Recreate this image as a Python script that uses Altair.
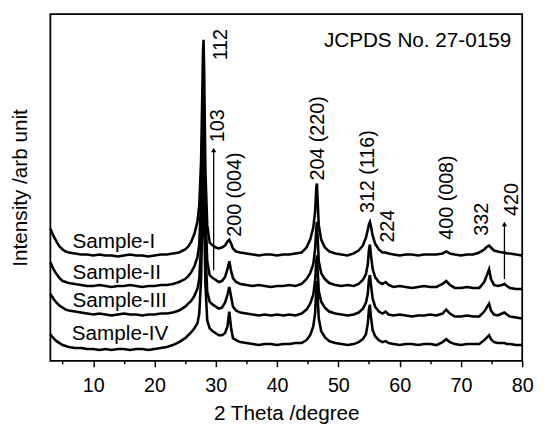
import altair as alt
import pandas as pd

FONT = "Liberation Sans"

two_theta = [3.0, 3.5, 4.0, 4.5, 5.0, 5.5, 6.0, 7.0, 8.0, 9.0,
             10, 11, 12, 13, 14, 15, 16, 17, 18, 19,
             20, 21, 22, 23, 24, 25, 25.5, 26, 26.5, 27,
             27.3, 27.6, 27.8, 27.9, 28.0, 28.1, 28.3, 28.6, 29.0, 29.5,
             30, 30.5, 31, 31.5, 31.9, 32.2, 32.5, 32.8, 33.3, 34,
             35, 36, 37, 38, 39, 40, 41, 42, 43, 44,
             44.8, 45.4, 45.9, 46.2, 46.4, 46.5, 46.6, 46.8, 47.2, 47.8,
             48.5, 49.5, 50.5, 51.5, 52.5, 53.3, 54.0, 54.5, 54.8, 55.0,
             55.15, 55.3, 55.6, 56.0, 56.6, 57.2, 57.7, 58.2, 59, 60,
             61, 62, 63, 64, 65, 66, 67, 67.6, 68.2, 69,
             70, 71, 72, 73, 73.8, 74.3, 74.6, 74.9, 75.4, 76,
             76.7, 77.1, 77.5, 78, 79, 80]

sample_1 = [134, 127, 121, 116, 113, 111, 110, 109, 108, 108,
            107, 108, 107, 107, 106, 107, 108, 107, 107, 106,
            107, 108, 108, 109, 110, 113, 116, 121, 129, 141,
            158, 203, 273, 313, 326, 293, 193, 138, 120, 117,
            115, 114, 115, 117, 121, 123, 119, 114, 111, 110,
            109, 108, 107, 108, 108, 107, 108, 108, 109, 110,
            115, 123, 135, 151, 176, 180, 165, 138, 123, 115,
            111, 109, 108, 107, 109, 112, 117, 125, 133, 139,
            141, 137, 127, 119, 113, 110, 110, 109, 108, 107,
            108, 108, 107, 108, 108, 108, 109, 111, 109, 108,
            107, 108, 108, 110, 113, 116, 117, 115, 112, 111,
            110, 110, 109, 109, 108, 107]

sample_2 = [100, 93, 88, 84, 81, 80, 79, 78, 77, 76,
            76, 77, 76, 75, 76, 76, 77, 76, 75, 76,
            76, 77, 77, 78, 80, 83, 86, 90, 96, 105,
            118, 163, 233, 263, 271, 243, 153, 101, 87, 84,
            82, 80, 81, 85, 93, 101, 91, 84, 80, 78,
            77, 76, 77, 76, 75, 76, 76, 77, 76, 78,
            83, 89, 98, 113, 135, 141, 128, 101, 89, 83,
            79, 77, 76, 77, 76, 78, 82, 88, 98, 113,
            118, 108, 93, 85, 80, 78, 80, 77, 75, 76,
            75, 74, 75, 76, 75, 75, 78, 81, 77, 74,
            74, 75, 74, 74, 80, 88, 93, 83, 77, 76,
            77, 78, 76, 74, 73, 73]

sample_3 = [68, 63, 59, 56, 54, 52, 51, 50, 49, 48,
            47, 48, 47, 46, 47, 48, 47, 47, 46, 47,
            47, 48, 48, 49, 51, 55, 58, 61, 66, 73,
            83, 118, 188, 218, 223, 193, 113, 70, 60, 57,
            55, 53, 54, 59, 67, 75, 65, 55, 51, 49,
            48, 47, 46, 47, 46, 47, 46, 47, 46, 48,
            52, 58, 67, 81, 101, 107, 95, 71, 60, 54,
            50, 48, 47, 46, 47, 49, 53, 59, 68, 83,
            87, 78, 63, 55, 50, 48, 50, 47, 46, 47,
            46, 45, 46, 46, 47, 46, 48, 52, 48, 45,
            45, 46, 45, 45, 50, 55, 58, 51, 47, 46,
            48, 49, 47, 45, 44, 43]

sample_4 = [27, 23, 20, 18, 16, 15, 14, 13, 13, 12,
            12, 11, 12, 11, 12, 12, 11, 12, 12, 11,
            12, 13, 14, 16, 19, 23, 26, 29, 33, 38,
            48, 83, 148, 168, 173, 148, 78, 41, 33, 30,
            28, 26, 26, 28, 35, 50, 33, 23, 21, 19,
            18, 17, 16, 17, 17, 16, 17, 17, 18, 18,
            21, 26, 35, 48, 73, 81, 68, 43, 30, 24,
            20, 18, 17, 16, 17, 19, 22, 27, 38, 53,
            57, 45, 31, 25, 21, 19, 20, 18, 17, 16,
            17, 17, 16, 17, 17, 16, 19, 22, 19, 17,
            16, 17, 17, 17, 21, 24, 26, 22, 19, 18,
            18, 18, 17, 17, 16, 16]

sample_names = ["Sample-I", "Sample-II", "Sample-III", "Sample-IV"]
sample_label_x = [6.6, 6.6, 6.6, 6.5]
sample_label_y = [121, 89, 61, 27]

peak_labels = ["112", "103", "200 (004)", "204 (220)", "312 (116)",
               "224", "400 (008)", "332", "420"]
peak_label_x = [30.8, 30.4, 33.1, 46.7, 54.9, 58.1, 67.7, 73.4, 78.3]
peak_label_y = [305, 222, 126, 183, 150, 120, 123, 127, 147]

arrow_x = [29.65, 77.1]
arrow_from = [92, 83]
arrow_to = [212, 137]
arrow_head = [214, 139]

note_text = ["JCPDS No. 27-0159"]
note_x = [78.2]
note_y = [325]

major_ticks = [10, 20, 30, 40, 50, 60, 70, 80]
minor_ticks = [5, 15, 25, 35, 45, 55, 65, 75]

rows = []
for name, ys in zip(sample_names, [sample_1, sample_2, sample_3, sample_4]):
    for t, v in zip(two_theta, ys):
        rows.append({"theta": t, "intensity": v, "sample": name})
df = pd.DataFrame(rows)

df_peaks = pd.DataFrame({"theta": peak_label_x, "intensity": peak_label_y, "label": peak_labels})
df_samples = pd.DataFrame({"theta": sample_label_x, "intensity": sample_label_y, "label": sample_names})
df_arrows = pd.DataFrame({"theta": arrow_x, "intensity": arrow_from, "intensity2": arrow_to, "head": arrow_head})
df_note = pd.DataFrame({"theta": note_x, "intensity": note_y, "label": note_text})

x_scale = alt.Scale(domain=[3, 80], nice=False, zero=False)
y_scale = alt.Scale(domain=[0, 352], nice=False, zero=False)

major_axis = alt.Axis(values=major_ticks, orient="bottom", tickSize=6, tickWidth=1.5,
                      tickColor="black", labelFontSize=20, labelFont=FONT,
                      labelColor="black", labelPadding=9, labelFlush=False,
                      title="2 Theta /degree", titleFontSize=21, titleFont=FONT,
                      titleFontWeight="normal", titleColor="black", titlePadding=8,
                      domain=False, grid=False)
minor_axis = alt.Axis(values=minor_ticks, orient="bottom", tickSize=3, tickWidth=1.5,
                      tickColor="black", labels=False, domain=False, grid=False, title=None)
y_axis = alt.Axis(title="Intensity /arb unit", labels=False, ticks=False, domain=False,
                  grid=False, titleFontSize=21, titleFont=FONT, titleFontWeight="normal",
                  titleColor="black", titlePadding=20)

lines = alt.Chart(df).mark_line(strokeWidth=2.6, color="black").encode(
    x=alt.X("theta:Q", scale=x_scale, axis=major_axis),
    y=alt.Y("intensity:Q", scale=y_scale, axis=y_axis),
    detail="sample:N",
)

arrows = alt.Chart(df_arrows).mark_rule(strokeWidth=1.3, color="black").encode(
    x=alt.X("theta:Q", scale=x_scale, axis=minor_axis),
    y=alt.Y("intensity:Q", scale=y_scale),
    y2="intensity2:Q",
)

heads = alt.Chart(df_arrows).mark_point(shape="triangle-up", filled=True, size=28,
                                        color="black", opacity=1).encode(
    x=alt.X("theta:Q", scale=x_scale, axis=None),
    y=alt.Y("head:Q", scale=y_scale),
)

peak_text = alt.Chart(df_peaks).mark_text(angle=270, align="left", baseline="middle",
                                          font=FONT, fontSize=20, color="black").encode(
    x=alt.X("theta:Q", scale=x_scale, axis=None),
    y=alt.Y("intensity:Q", scale=y_scale),
    text="label:N",
)

sample_text = alt.Chart(df_samples).mark_text(align="left", baseline="middle",
                                              font=FONT, fontSize=21, color="black").encode(
    x=alt.X("theta:Q", scale=x_scale, axis=None),
    y=alt.Y("intensity:Q", scale=y_scale),
    text="label:N",
)

note = alt.Chart(df_note).mark_text(align="right", baseline="middle",
                                    font=FONT, fontSize=21, color="black").encode(
    x=alt.X("theta:Q", scale=x_scale, axis=None),
    y=alt.Y("intensity:Q", scale=y_scale),
    text="label:N",
)

chart = alt.layer(lines, arrows, heads, peak_text, sample_text, note).resolve_axis(
    x="independent"
).properties(
    width=479, height=352,
    autosize=alt.AutoSizeParams(type="none"),
    padding={"left": 43, "top": 3, "right": 14, "bottom": 63},
    background="white",
).configure_view(stroke="black", strokeWidth=1.8)

chart.save("out.html", embed_options={"renderer": "svg", "actions": False})
